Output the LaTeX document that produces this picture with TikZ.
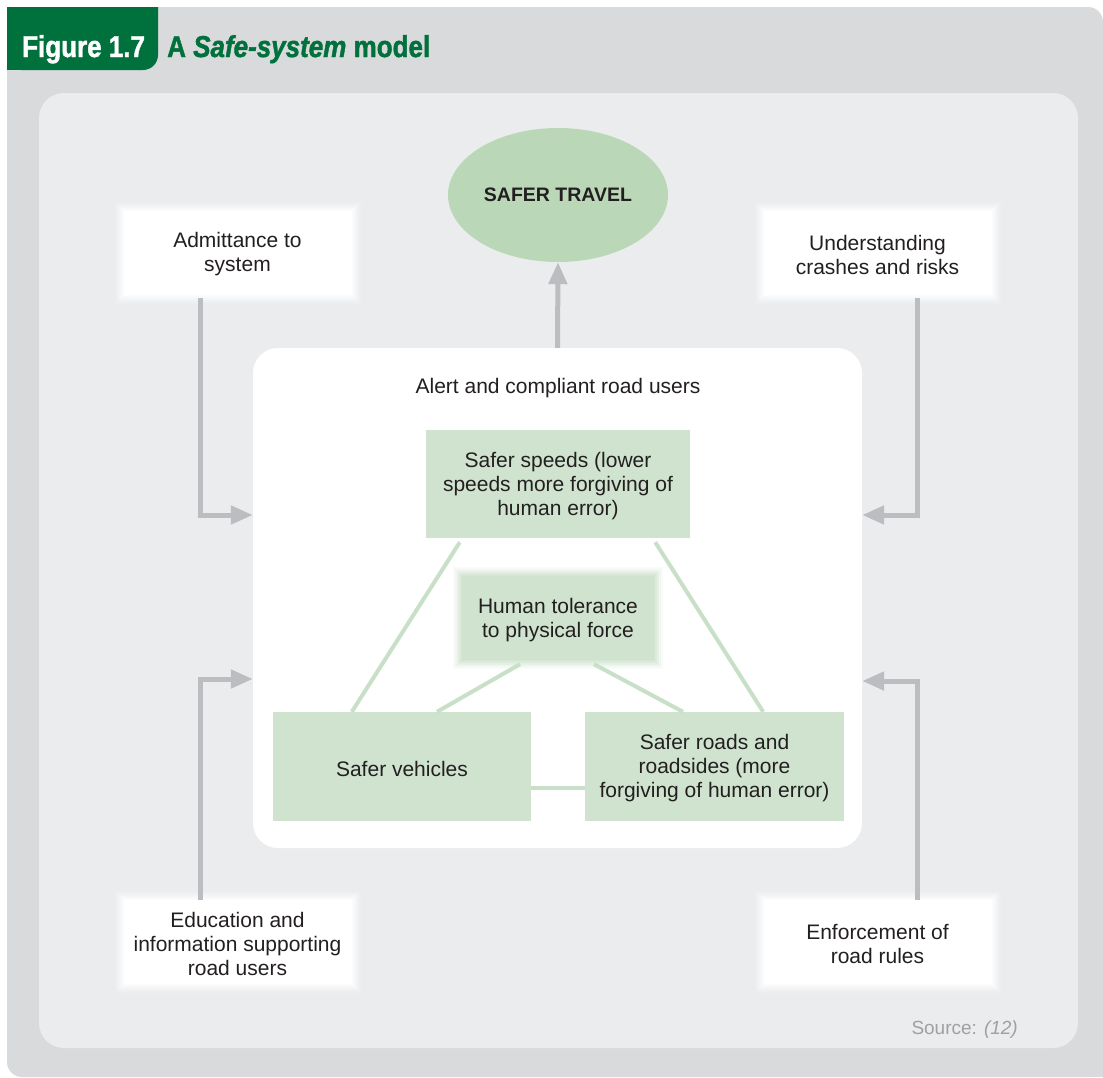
\documentclass[tikz,border=0pt]{standalone}
\usepackage{fontspec}
\setmainfont{Liberation Sans}
\newfontfamily\heavyfont{Liberation Sans}[BoldFeatures={FakeBold=1.6},BoldItalicFeatures={FakeBold=1.6}]
\usetikzlibrary{arrows.meta,shapes.geometric}
\definecolor{framegray}{HTML}{D9DADC}
\definecolor{panelgray}{HTML}{EBECEE}
\definecolor{hdrgreen}{HTML}{00703C}
\definecolor{ovalgreen}{HTML}{BAD8B8}
\definecolor{boxgreen}{HTML}{CFE3CF}
\definecolor{linegreen}{HTML}{C8E0C8}
\definecolor{arrowgray}{HTML}{BCBDC0}
\definecolor{txtcol}{HTML}{231F20}
\definecolor{srcgray}{HTML}{A0A0A0}
\newcommand\fuzzbox[7]{%
  \foreach \d/\o in {9/0.12,7/0.2,5/0.3,3/0.45,1/0.65}{%
    \fill[#2,opacity=\o] (#3-#5/2-\d,#4-#6/2-\d) rectangle (#3+#5/2+\d,#4+#6/2+\d);}
  \fill[#2] (#3-#5/2,#4-#6/2) rectangle (#3+#5/2,#4+#6/2);
  \node[boxtext,minimum width=#5,minimum height=#6] (#1) at (#3,#4) {#7};}
\tikzset{
  boxtext/.style={text=txtcol,align=center,inner sep=0pt,yshift=-2pt,font=\fontsize{21}{24}\selectfont},
  garrow/.style={draw=arrowgray,line width=5pt,-{Triangle[length=22pt,width=18pt]}},
  gline/.style={draw=linegreen,line width=4pt},
  titletext/.style={anchor=base west,inner sep=0pt,font=\fontsize{26}{30}\heavyfont\bfseries},
}
\begin{document}
\begin{tikzpicture}[x=1pt,y=-1pt]
\useasboundingbox (0,0) rectangle (1103,1077);
\fill[white] (0,0) rectangle (1103,1077);
% frame
\fill[framegray,rounded corners=15pt] (7,7) rectangle (1103,1077);
\fill[framegray] (1080,1050) rectangle (1103,1077);
% header
\fill[hdrgreen] (7,7) -- (158,7) [rounded corners=15pt] -- (158,70) -- (7,70) [sharp corners] -- cycle;
\fill[hdrgreen] (7,7) rectangle (40,70);
\node[titletext,text=white] (fig) at (22,57) {\scalebox{1.0}[1.16]{Figure 1.7}};
\node[titletext,text=hdrgreen] (ttl) at (167,57) {\scalebox{1.0}[1.16]{A \textit{Safe-system} model}};
% panel
\fill[panelgray,rounded corners=25pt] (39,93) rectangle (1078,1048);
% central system box
\node[fill=white,rounded corners=25pt,minimum width=609,minimum height=500,inner sep=0pt] (sys) at (557.5,598) {};
\node[boxtext] (alert) at (558,386) {Alert and compliant road users};
% ellipse
\node[ellipse,fill=ovalgreen,minimum width=220,minimum height=134,inner sep=0pt,text=txtcol,font=\fontsize{19.5}{24}\selectfont\bfseries] (travel) at (558,195) {SAFER TRAVEL};
% outer white boxes
\fuzzbox{adm}{white}{237.5}{252.5}{228}{84}{Admittance to\\system}
\fuzzbox{und}{white}{877.5}{252.5}{228}{84}{Understanding\\crashes and risks}
\fuzzbox{edu}{white}{237.5}{941.5}{228}{84}{Education and\\information supporting\\road users}
\fuzzbox{enf}{white}{877.5}{941.5}{228}{84}{Enforcement of\\road rules}
% green boxes
\fill[boxgreen] (426,430) rectangle (690,538);
\node[boxtext,minimum width=264,minimum height=108] (spd) at (558,484) {Safer speeds (lower\\speeds more forgiving of\\human error)};
\fuzzbox{hum}{boxgreen}{558}{618}{192}{84}{Human tolerance\\to physical force}
\node[fill=boxgreen,minimum width=258,minimum height=109,inner sep=0pt] (veh) at (402,766.5) {};
\node[boxtext] (vehtxt) at (veh) {Safer vehicles};
\node[fill=boxgreen,minimum width=259,minimum height=109,inner sep=0pt] (rds) at (714.5,766.5) {};
\node[boxtext] (rdstxt) at (rds) {Safer roads and\\roadsides (more\\forgiving of human error)};
% green connectors
\draw[gline] ([xshift=34pt,yshift=-2pt]spd.south west) -- ([xshift=79pt]veh.north west);
\draw[gline] ([xshift=-35pt,yshift=-2pt]spd.south east) -- ([xshift=-81pt]rds.north east);
\draw[gline] ([xshift=-38pt,yshift=-2pt]hum.south) -- ([xshift=35pt]veh.north);
\draw[gline] ([xshift=36pt,yshift=-2pt]hum.south) -- ([xshift=-31.5pt]rds.north);
\draw[gline] ([yshift=-21.5pt]veh.east) -- ([yshift=-21.5pt]rds.west);
% gray arrows
\draw[garrow] (sys.north) -- (travel.south);
\draw[garrow] ([xshift=-37.5pt,yshift=-1pt]adm.south) |- ([yshift=83pt]sys.west);
\draw[garrow] ([xshift=39.5pt,yshift=-1pt]und.south) |- ([yshift=83pt]sys.east);
\draw[garrow] ([xshift=-37.5pt,yshift=1pt]edu.north) |- ([yshift=-81pt]sys.west);
\draw[garrow] ([xshift=39.5pt,yshift=1pt]enf.north) |- ([yshift=-83pt]sys.east);
% source
\node[anchor=base east,text=srcgray,inner sep=0pt,font=\fontsize{19}{22}\selectfont] (src) at (1018,1034) {Source: \textit{(12)}};
\end{tikzpicture}
\end{document}
